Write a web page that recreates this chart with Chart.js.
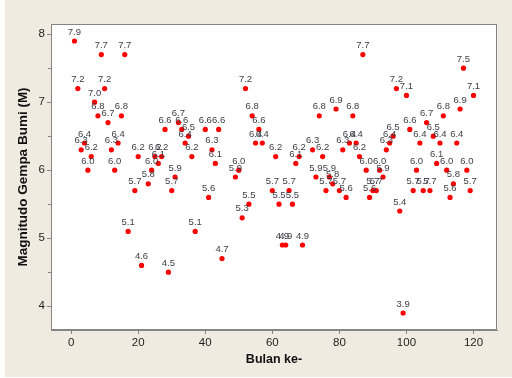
<!DOCTYPE html>
<html>
<head>
<meta charset="utf-8">
<script src="https://cdn.jsdelivr.net/npm/chart.js@4"></script>
<style>
  html, body { margin: 0; padding: 0; background: #fff; }
  #wrap { width: 512px; height: 378px; }
</style>
</head>
<body>
<div id="wrap"><canvas id="quakeChart" width="512" height="378"></canvas></div>
<script>
// month index (Bulan ke-) and the strongest magnitude recorded in that month
const months = [
  1, 2, 3, 4, 5, 6, 7, 8, 9, 10, 11, 12, 13, 14, 15, 16, 17, 19, 20, 21,
  23, 24, 25, 26, 27, 28, 29, 30, 31, 32, 33, 34, 35, 36, 37, 40, 41, 42, 43, 44,
  45, 49, 50, 51, 52, 53, 54, 55, 56, 57, 60, 61, 62, 63, 64, 65, 66, 67, 68, 69,
  72, 73, 74, 75, 76, 77, 78, 79, 80, 81, 82, 83, 84, 85, 86, 87, 88, 89, 90, 91,
  92, 93, 94, 95, 96, 97, 98, 99, 100, 101, 102, 103, 104, 105, 106, 107, 108, 109, 110, 111,
  112, 113, 114, 115, 116, 117, 118, 119, 120
];
const magnitudes = [
  7.9, 7.2, 6.3, 6.4, 6.0, 6.2, 7.0, 6.8, 7.7, 7.2, 6.7, 6.3, 6.0, 6.4, 6.8, 7.7, 5.1, 5.7, 6.2, 4.6,
  5.8, 6.0, 6.2, 6.1, 6.2, 6.6, 4.5, 5.7, 5.9, 6.7, 6.6, 6.4, 6.5, 6.2, 5.1, 6.6, 5.6, 6.3, 6.1, 6.6,
  4.7, 5.9, 6.0, 5.3, 7.2, 5.5, 6.8, 6.4, 6.6, 6.4, 5.7, 6.2, 5.5, 4.9, 4.9, 5.7, 5.5, 6.1, 6.2, 4.9,
  6.3, 5.9, 6.8, 6.2, 5.7, 5.9, 5.8, 6.9, 5.7, 6.3, 5.6, 6.4, 6.8, 6.4, 6.2, 7.7, 6.0, 5.6, 5.7, 5.7,
  6.0, 5.9, 6.3, 6.4, 6.5, 7.2, 5.4, 3.9, 7.1, 6.6, 5.7, 6.0, 6.4, 5.7, 6.7, 5.7, 6.5, 6.1, 6.4, 6.8,
  6.0, 5.6, 5.8, 6.4, 6.9, 7.5, 6.0, 5.7, 7.1
];
const xTicks = [0, 20, 40, 60, 80, 100, 120];
const yTicks = [4, 5, 6, 7, 8];
const yMinorTicks = [4.5, 5.5, 6.5, 7.5];

const frameColor = '#858585';

// beige figure region with a white data region
const backdrop = {
  id: 'backdrop',
  beforeDraw(chart) {
    const { ctx, chartArea: a } = chart;
    ctx.save();
    ctx.fillStyle = '#efebe1';
    ctx.fillRect(5, 0, 507, 377);
    ctx.fillStyle = '#ffffff';
    ctx.fillRect(a.left, a.top, a.right - a.left, a.bottom - a.top);
    ctx.restore();
  }
};

// box around the data region, minor y ticks and the value above every point
const extras = {
  id: 'extras',
  afterDatasetsDraw(chart) {
    const { ctx, chartArea: a } = chart;
    const yScale = chart.scales.y;
    ctx.save();
    ctx.strokeStyle = frameColor;
    ctx.lineWidth = 1;
    ctx.strokeRect(a.left + 0.5, a.top + 0.5, a.right - a.left - 1, a.bottom - a.top - 1);
    yMinorTicks.forEach(v => {
      const py = Math.round(yScale.getPixelForValue(v)) + 0.5;
      ctx.beginPath();
      ctx.moveTo(a.left - 3, py);
      ctx.lineTo(a.left, py);
      ctx.stroke();
    });
    ctx.font = '9.5px "Liberation Sans", Arial, sans-serif';
    ctx.fillStyle = '#3c3c46';
    ctx.textAlign = 'center';
    ctx.textBaseline = 'alphabetic';
    const meta = chart.getDatasetMeta(0);
    meta.data.forEach((pt, i) => {
      ctx.fillText(magnitudes[i].toFixed(1), pt.x, pt.y - 6.5);
    });
    ctx.restore();
  }
};

const ctx = document.getElementById('quakeChart').getContext('2d');

const chart = new Chart(ctx, {
  type: 'scatter',
  data: {
    datasets: [{
      data: months.map((m, i) => ({ x: m, y: magnitudes[i] })),
      backgroundColor: '#ff0000',
      borderWidth: 0,
      pointRadius: 2.6
    }]
  },
  options: {
    responsive: false,
    animation: false,
    devicePixelRatio: 1,
    layout: { padding: { left: 0, top: 24, right: 15, bottom: 0 } },
    plugins: {
      legend: { display: false },
      tooltip: { enabled: false }
    },
    scales: {
      x: {
        type: 'linear',
        min: -6,
        max: 127,
        afterBuildTicks: s => { s.ticks = xTicks.map(v => ({ value: v })); },
        afterFit: s => { s.height = 48; },
        grid: { drawOnChartArea: false, drawTicks: true, tickLength: 4, color: frameColor },
        border: { display: true, color: frameColor },
        ticks: {
          color: '#1e1e1e',
          padding: 2,
          maxRotation: 0,
          font: { family: '"Liberation Sans", Arial, sans-serif', size: 11.5 }
        },
        title: {
          display: true,
          text: 'Bulan ke-',
          color: '#111',
          padding: { top: 0, bottom: 11 },
          font: { family: '"Liberation Sans", Arial, sans-serif', size: 12.5, weight: 'bold' }
        }
      },
      y: {
        min: 3.65,
        max: 8.15,
        afterBuildTicks: s => { s.ticks = yTicks.map(v => ({ value: v })); },
        afterFit: s => { s.width = 51; },
        grid: { drawOnChartArea: false, drawTicks: true, tickLength: 4, color: frameColor },
        border: { display: true, color: frameColor },
        ticks: {
          color: '#1e1e1e',
          padding: 2,
          font: { family: '"Liberation Sans", Arial, sans-serif', size: 11.5 }
        },
        title: {
          display: true,
          text: 'Magnitudo Gempa Bumi (M)',
          color: '#111',
          padding: { top: 15.5, bottom: 0 },
          font: { family: '"Liberation Sans", Arial, sans-serif', size: 13.5, weight: 'bold' }
        }
      }
    }
  },
  plugins: [backdrop, extras]
});
</script>
</body>
</html>
